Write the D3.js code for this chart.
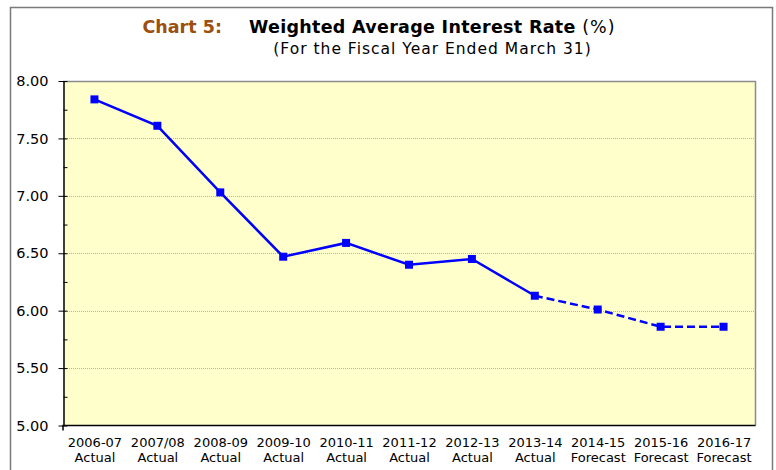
<!DOCTYPE html>
<html>
<head>
<meta charset="utf-8">
<script src="https://cdn.jsdelivr.net/npm/d3@7"></script>
<style>
  body { margin: 0; background: #fff; }
  text { font-family: "DejaVu Sans", Verdana, sans-serif; }
</style>
</head>
<body>
<script>
//data
var years = ["2006-07", "2007/08", "2008-09", "2009-10", "2010-11", "2011-12",
  "2012-13", "2013-14", "2014-15", "2015-16", "2016-17"];
var yearStatus = ["Actual", "Actual", "Actual", "Actual", "Actual", "Actual",
  "Actual", "Actual", "Forecast", "Forecast", "Forecast"];
var rates = [7.84, 7.61, 7.03, 6.47, 6.59, 6.40, 6.45, 6.13, 6.01, 5.86, 5.86];
var yTicks = [5.00, 5.50, 6.00, 6.50, 7.00, 7.50, 8.00];
var yMinorTicks = [5.25, 5.75, 6.25, 6.75, 7.25, 7.75];
var lastActual = 7; //index where forecast (dashed) part starts

//size svg variable
var outerWidth = 776;
var outerHeight = 470;
var plotLeft = 63, plotRight = 755, plotTop = 81, plotBottom = 425.5;

var svg = d3.select("body").append("svg")
  .attr("width", outerWidth)
  .attr("height", outerHeight);

//outer frame
svg.append("rect")
  .attr("x", 10.5).attr("y", 7.5)
  .attr("width", 762).attr("height", 480)
  .attr("fill", "none")
  .attr("stroke", "#7a7a7a")
  .attr("stroke-width", 1.5);

//title
var title = svg.append("text")
  .attr("x", 142.5)
  .attr("y", 33)
  .style("font-size", "17.5px");
title.append("tspan")
  .attr("fill", "#9c4f10")
  .attr("font-weight", "bold")
  .text("Chart 5:");
title.append("tspan")
  .attr("x", 249)
  .attr("fill", "#000")
  .attr("font-weight", "bold")
  .style("letter-spacing", "0.3px")
  .text("Weighted Average Interest Rate");
title.append("tspan")
  .attr("fill", "#000")
  .style("letter-spacing", "1px")
  .text(" (%)");

svg.append("text")
  .attr("x", 432.5)
  .attr("y", 53.5)
  .attr("text-anchor", "middle")
  .style("font-size", "15.5px")
  .style("letter-spacing", "1px")
  .text("(For the Fiscal Year Ended March 31)");

//scales
var x = d3.scalePoint()
  .domain(years)
  .range([plotLeft, plotRight])
  .padding(0.5);

var y = d3.scaleLinear()
  .domain([5, 8])
  .range([plotBottom, plotTop]);

//plot background
svg.append("rect")
  .attr("x", plotLeft).attr("y", plotTop)
  .attr("width", plotRight - plotLeft).attr("height", plotBottom - plotTop)
  .attr("fill", "#ffffcc");

//gridlines
svg.selectAll("line.grid")
  .data(yTicks.filter((d) => d > 5 && d < 8))
  .enter()
  .append("line")
  .attr("class", "grid")
  .attr("x1", plotLeft).attr("x2", plotRight)
  .attr("y1", (d) => Math.round(y(d)) + 0.5)
  .attr("y2", (d) => Math.round(y(d)) + 0.5)
  .attr("stroke", "#b3b3b3")
  .attr("stroke-dasharray", "1,1");

//top and right border of plot
svg.append("path")
  .attr("d", "M" + plotLeft + "," + (plotTop + 0.5) + "H" + (plotRight + 0.5) + "V" + plotBottom)
  .attr("fill", "none")
  .attr("stroke", "#8c8c8c")
  .attr("stroke-width", 1.5);

//y axis
var yAxis = svg.append("g")
  .attr("transform", "translate(" + (plotLeft + 0.5) + ",0)")
  .call(d3.axisLeft(y)
    .tickValues(yTicks)
    .tickFormat(d3.format(".2f"))
    .tickSizeInner(5)
    .tickSizeOuter(0)
    .tickPadding(10));
yAxis.select(".domain").attr("stroke", "#000").attr("stroke-width", 1.5);
yAxis.selectAll(".tick line").attr("x2", -5).attr("x1", 4);
yAxis.selectAll(".tick text")
  .style("font-size", "14.5px")
  .attr("fill", "#000");

//minor ticks
svg.append("g")
  .attr("transform", "translate(" + (plotLeft + 0.5) + ",0)")
  .call(d3.axisRight(y)
    .tickValues(yMinorTicks)
    .tickFormat("")
    .tickSizeInner(4)
    .tickSizeOuter(0))
  .call((g) => g.select(".domain").remove());

//x axis
var xAxis = svg.append("g")
  .attr("transform", "translate(0," + plotBottom + ")")
  .call(d3.axisBottom(x).tickSize(0).tickPadding(0).tickFormat(""));
xAxis.select(".domain")
  .attr("d", "M" + plotLeft + ",5V0H" + (plotRight + 0.5))
  .attr("stroke", "#000")
  .attr("stroke-width", 1.5);

xAxis.selectAll(".tick text")
  .attr("y", 0)
  .attr("dy", null)
  .style("font-size", "13px")
  .attr("fill", "#000")
  .each(function(d, i) {
    var t = d3.select(this);
    t.append("tspan").attr("x", 0).attr("y", 21.5).text(years[i]);
    t.append("tspan").attr("x", 0).attr("y", 36.5).text(yearStatus[i]);
  });

//line
var pts = rates.map((d, i) => ({ v: d, i: i }));
var lineXY = d3.line()
  .x((d) => x(years[d.i]))
  .y((d) => y(d.v));

svg.append("path")
  .datum(pts.slice(0, lastActual + 1))
  .attr("d", lineXY)
  .attr("fill", "none")
  .attr("stroke", "#0000ff")
  .attr("stroke-width", 2.5);

svg.append("path")
  .datum(pts.slice(lastActual))
  .attr("d", lineXY)
  .attr("fill", "none")
  .attr("stroke", "#0000ff")
  .attr("stroke-width", 2.5)
  .attr("stroke-dasharray", "8,4");

//markers
svg.selectAll("rect.mark")
  .data(pts)
  .enter()
  .append("rect")
  .attr("class", "mark")
  .attr("x", (d) => x(years[d.i]) - 4)
  .attr("y", (d) => y(d.v) - 4)
  .attr("width", 8)
  .attr("height", 8)
  .attr("fill", "#0000ff");
</script>
</body>
</html>
